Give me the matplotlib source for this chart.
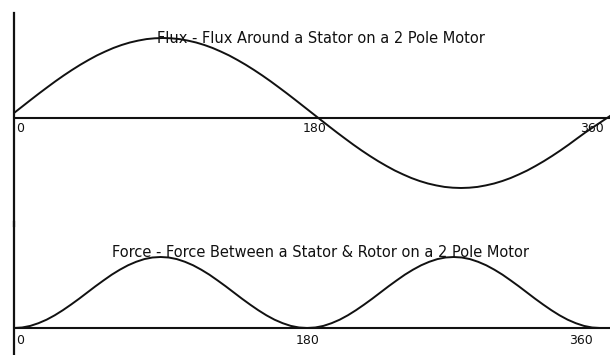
import numpy as np
import matplotlib
matplotlib.use("Agg")
import matplotlib.pyplot as plt

# electrical angle in degrees, sampled every 5 deg
angle = np.arange(0, 361, 5)

# flux around the stator (arbitrary units)
flux = [5, 11.5, 18, 24.4, 30.6, 36.7, 42.5, 48, 53.2, 58, 62.5, 66.4, 70, 73, 75.5, 77.4, 78.9, 79.7, 80,
        79.7, 78.9, 77.4, 75.5, 73, 70, 66.4, 62.5, 58, 53.2, 48, 42.5, 36.7, 30.6, 24.4, 18, 11.5, 5,
        -1.5, -8, -14.4, -20.6, -26.7, -32.5, -38, -43.2, -48, -52.5, -56.4, -60, -63, -65.5, -67.4,
        -68.9, -69.7, -70, -69.7, -68.9, -67.4, -65.5, -63, -60, -56.4, -52.5, -48, -43.2, -38,
        -32.5, -26.7, -20.6, -14.6, -9, -3.5, 2]

# force between stator and rotor (arbitrary units)
force = [0, 0.5, 2.1, 4.8, 8.3, 12.7, 17.8, 23.4, 29.3, 35.5, 41.7, 47.6, 53.3, 58.3, 62.7, 66.2, 68.9, 70.5, 71,
         70.5, 68.9, 66.2, 62.7, 58.3, 53.3, 47.6, 41.7, 35.5, 29.3, 23.4, 17.8, 12.7, 8.3, 4.8, 2.1, 0.5, 0,
         0.5, 2.1, 4.8, 8.3, 12.7, 17.8, 23.4, 29.3, 35.5, 41.7, 47.6, 53.3, 58.3, 62.7, 66.2, 68.9, 70.5, 71,
         70.5, 68.9, 66.2, 62.7, 58.3, 53.3, 47.6, 41.7, 35.5, 29.3, 23.4, 17.8, 12.7, 8.3, 4.8, 2.1, 0.5, 0]

flux_title = "Flux - Flux Around a Stator on a 2 Pole Motor"
force_title = "Force - Force Between a Stator & Rotor on a 2 Pole Motor"
tick_labels = ["0", "180", "360"]

plt.rcParams["font.family"] = ["DejaVu Sans"]

W, H = 610, 355
fig = plt.figure(figsize=(W / 100, H / 100), dpi=100)
fig.patch.set_facecolor("white")


def px_axes(x0, y0, x1, y1):
    # axes from pixel box (top-left origin)
    return fig.add_axes([x0 / W, 1 - y1 / H, (x1 - x0) / W, (y1 - y0) / H])


def style(ax):
    for s in ("top", "right", "bottom"):
        ax.spines[s].set_visible(False)
    ax.spines["left"].set_linewidth(1.6)
    ax.spines["left"].set_color("#111111")
    ax.set_xticks([])
    ax.set_yticks([])
    ax.patch.set_alpha(0)


# top panel: flux
ax1 = px_axes(14, 13, 610, 226)
style(ax1)
ax1.set_xlim(0, 360)
ax1.set_ylim(118 - 226, 118 - 13)
ax1.axhline(0, color="#111111", lw=1.5)
ax1.plot(angle, flux, color="#111111", lw=1.4)
ax1.text(0.515, 0.878, flux_title, transform=ax1.transAxes, ha="center", va="center",
         fontsize=10.5, color="#111111")
for v, lab, ha, dx in [(0, tick_labels[0], "left", 2), (180, tick_labels[1], "center", 3),
                        (360, tick_labels[2], "right", -6)]:
    ax1.annotate(lab, (v, 0), xytext=(dx, -4), textcoords="offset pixels",
                 ha=ha, va="top", fontsize=9, color="#111111")

# bottom panel: force
ax2 = px_axes(14, 222, 610, 355)
style(ax2)
ax2.set_xlim(0, 366)
ax2.set_ylim(328 - 355, 328 - 222)
ax2.axhline(0, color="#111111", lw=1.5)
ax2.plot(angle, force, color="#111111", lw=1.4)
ax2.text(0.515, 0.77, force_title, transform=ax2.transAxes, ha="center", va="center",
         fontsize=10.5, color="#111111")
for v, lab, ha, dx in [(0, tick_labels[0], "left", 2), (180, tick_labels[1], "center", 0),
                        (360, tick_labels[2], "right", -7)]:
    ax2.annotate(lab, (v, 0), xytext=(dx, -6), textcoords="offset pixels",
                 ha=ha, va="top", fontsize=9, color="#111111")

fig.savefig("out.png", dpi=100)
